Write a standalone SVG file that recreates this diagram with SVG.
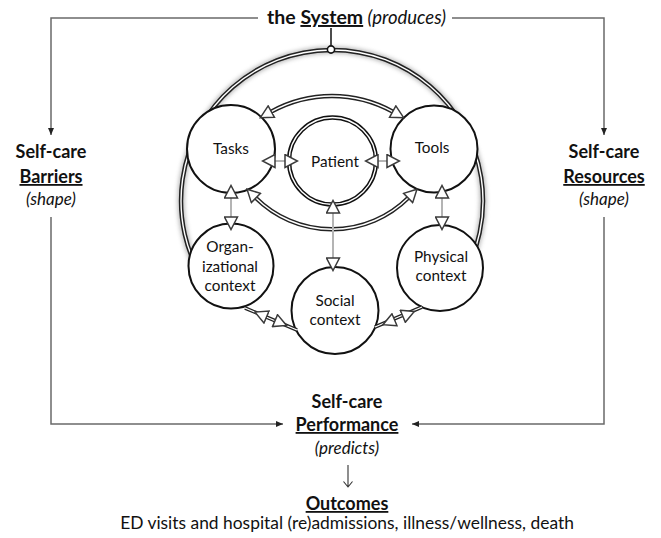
<svg xmlns="http://www.w3.org/2000/svg" width="661" height="538" viewBox="0 0 661 538">
<style>
  text { font-family: Lato, "Open Sans", "Liberation Sans", sans-serif; fill: #111; }
  .h { font-weight: 700; font-size: 18px; }
  .it { font-style: italic; font-size: 17px; }
  .title { font-size: 19.5px; }
  .title-it { font-size: 18.5px; }
  .u { text-decoration: underline; }
  .mid { text-anchor: middle; }
  .lbl { font-size: 15.3px; text-anchor: middle; }
  .body { font-size: 17.4px; }
  .flow { fill: none; stroke: #6a6a6a; stroke-width: 1.5; }
  .node { fill: #fff; stroke: #111; stroke-width: 2; }
  .dbl-dark { fill: none; stroke: #222; stroke-width: 4.4; }
  .dbl-light { fill: none; stroke: #fff; stroke-width: 1.4; }
  .halo { fill: none; stroke: #777; stroke-width: 7; opacity: .5; filter: url(#blur); }
  .link { fill: none; stroke: #b4b4b4; stroke-width: 2; }
  .tips { fill: none; stroke: none; marker-start: url(#open); marker-end: url(#open); }
</style>
<defs>
  <filter id="blur" x="-10%" y="-10%" width="120%" height="120%">
    <feGaussianBlur stdDeviation="2"/>
  </filter>
  <!-- hollow arrowhead: base sits on the path end, tip points outward -->
  <marker id="open" markerUnits="userSpaceOnUse" viewBox="-1 -1 15 15" markerWidth="15" markerHeight="15" refX="0" refY="6.5" orient="auto-start-reverse">
    <path d="M0,0 L12.5,6.5 L0,13 Z" fill="#fff" stroke="#3a3a3a" stroke-width="1.5"/>
  </marker>
  <marker id="solid" markerUnits="userSpaceOnUse" viewBox="0 0 8 8" markerWidth="8" markerHeight="8" refX="7" refY="4" orient="auto">
    <path d="M0,1 L7,4 L0,7 Z" fill="#222"/>
  </marker>
  <path id="ring" d="M204.7,282.1 A151,151 0 1 1 460.3,280.6"/>
  <path id="arc-top" d="M271.3,111.6 A125.6,125.6 0 0 1 392.7,111.6"/>
  <path id="arc-bottom" d="M255.9,198 A108.2,108.2 0 0 0 408.1,198"/>
  <path id="org-social" d="M245,308 L297,330"/>
  <path id="social-phys" d="M375,327 L422,307"/>
</defs>

<rect width="661" height="538" fill="#fff"/>

<!-- system boundary ring, passing behind the component circles -->
<g id="system-ring">
  <use href="#ring" class="halo"/>
  <use href="#ring" class="dbl-dark"/>
  <use href="#ring" class="dbl-light"/>
</g>

<!-- work-system components -->
<g id="tasks">
  <circle class="node" cx="231" cy="149" r="44"/>
  <text class="lbl" x="231" y="154">Tasks</text>
</g>
<g id="tools">
  <circle class="node" cx="434" cy="149" r="43.5"/>
  <text class="lbl" x="432" y="153">Tools</text>
</g>
<g id="patient">
  <circle cx="332.5" cy="161" r="43.5" fill="#fff" stroke="#111" stroke-width="4.4"/>
  <circle cx="332.5" cy="161" r="43.5" fill="none" stroke="#fff" stroke-width="1.4"/>
  <text class="lbl" x="335" y="167">Patient</text>
</g>
<g id="organizational-context">
  <circle class="node" cx="231" cy="266" r="42.5"/>
  <text class="lbl" x="230" y="252">Organ-</text>
  <text class="lbl" x="230" y="272">izational</text>
  <text class="lbl" x="230" y="291">context</text>
</g>
<g id="social-context">
  <circle class="node" cx="335" cy="310.5" r="43.5"/>
  <text class="lbl" x="335" y="306">Social</text>
  <text class="lbl" x="335" y="325">context</text>
</g>
<g id="physical-context">
  <circle class="node" cx="440" cy="268" r="43"/>
  <text class="lbl" x="441" y="262">Physical</text>
  <text class="lbl" x="441" y="281">context</text>
</g>

<!-- outer model labels -->
<g id="system-label">
  <text x="267" y="24"><tspan class="h title">the </tspan><tspan class="h title u">System</tspan><tspan class="it title-it"> (produces)</tspan></text>
</g>
<g id="barriers">
  <text class="h mid" x="51" y="158">Self-care</text>
  <text class="h u mid" x="51" y="183">Barriers</text>
  <text class="it mid" x="51" y="205">(shape)</text>
</g>
<g id="resources">
  <text class="h mid" x="604" y="158">Self-care</text>
  <text class="h u mid" x="604" y="183">Resources</text>
  <text class="it mid" x="604" y="205">(shape)</text>
</g>
<g id="performance">
  <text class="h mid" x="347" y="408">Self-care</text>
  <text class="h u mid" x="347" y="431">Performance</text>
  <text class="it mid" x="347" y="454">(predicts)</text>
</g>
<g id="outcomes">
  <text class="h u mid" x="347" y="510">Outcomes</text>
  <text class="body mid" x="347" y="529">ED visits and hospital (re)admissions, illness/wellness, death</text>
</g>

<g id="connectors">
  <!-- model flow -->
  <path class="flow" d="M258,18 H51 V135" marker-end="url(#solid)"/>
  <path class="flow" d="M452,18 H604 V135" marker-end="url(#solid)"/>
  <path class="flow" d="M51,217 V424 H283" marker-end="url(#solid)"/>
  <path class="flow" d="M604,217 V424 H412" marker-end="url(#solid)"/>
  <path d="M348,465 V487 M343.5,481.5 L348,487 L352.5,481.5" fill="none" stroke="#333" stroke-width="1.1"/>
  <path d="M331,28 V45.5" fill="none" stroke="#111" stroke-width="1.5"/>
  <circle cx="331" cy="49.5" r="3.6" fill="#fff" stroke="#111" stroke-width="1.6"/>

  <!-- double-line links -->
  <use href="#arc-top" class="dbl-dark"/>
  <use href="#arc-top" class="dbl-light"/>
  <use href="#arc-bottom" class="dbl-dark"/>
  <use href="#arc-bottom" class="dbl-light"/>
  <use href="#org-social" class="dbl-dark" style="stroke-width:3.6"/>
  <use href="#org-social" class="dbl-light" style="stroke-width:1.2"/>
  <use href="#social-phys" class="dbl-dark" style="stroke-width:3.6"/>
  <use href="#social-phys" class="dbl-light" style="stroke-width:1.2"/>
  <use href="#arc-top" class="tips"/>
  <use href="#arc-bottom" class="tips"/>
  <path class="tips" d="M266.5,317 L275,320.6"/>
  <path class="tips" d="M394.5,319.8 L402.8,316.3"/>

  <!-- single grey links -->
  <path class="link" d="M275,161 H285" style="marker-start:url(#open);marker-end:url(#open)"/>
  <path class="link" d="M378,161 H387" style="marker-start:url(#open);marker-end:url(#open)"/>
  <path class="link" d="M231,198 V217" style="marker-start:url(#open);marker-end:url(#open)"/>
  <path class="link" d="M442,198 V217" style="marker-start:url(#open);marker-end:url(#open)"/>
  <path class="link" d="M333,213 V258" style="marker-start:url(#open);marker-end:url(#open)"/>
</g>
</svg>
